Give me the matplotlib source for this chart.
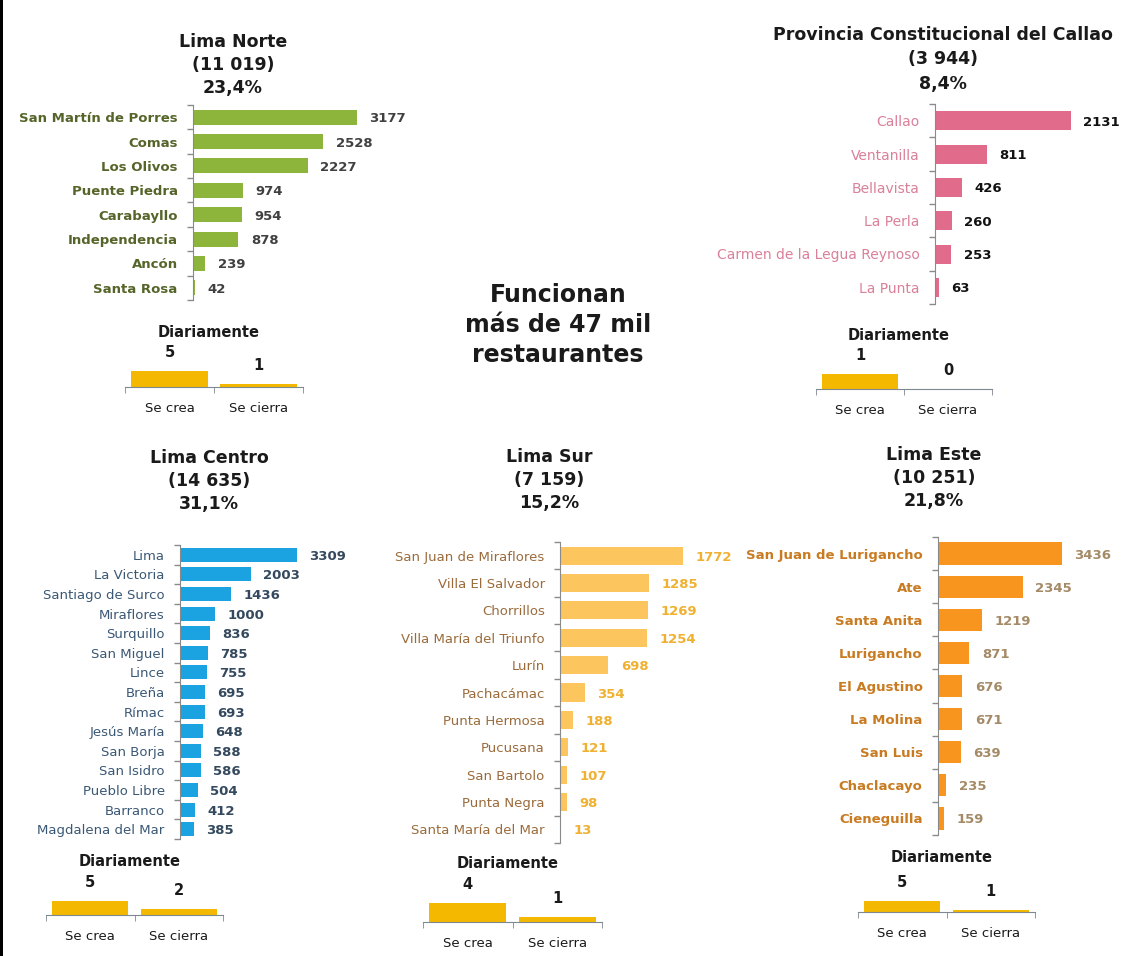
import numpy as np
import matplotlib
matplotlib.use('Agg')
import matplotlib.pyplot as plt
from matplotlib.patches import Rectangle

plt.rcParams['font.family'] = ['DejaVu Sans']

W, H = 1138, 956

# restaurantes por distrito
norte_names = ['San Martín de Porres', 'Comas', 'Los Olivos', 'Puente Piedra',
               'Carabayllo', 'Independencia', 'Ancón', 'Santa Rosa']
norte_vals = [3177, 2528, 2227, 974, 954, 878, 239, 42]

callao_names = ['Callao', 'Ventanilla', 'Bellavista', 'La Perla',
                'Carmen de la Legua Reynoso', 'La Punta']
callao_vals = [2131, 811, 426, 260, 253, 63]

centro_names = ['Lima', 'La Victoria', 'Santiago de Surco', 'Miraflores', 'Surquillo',
                'San Miguel', 'Lince', 'Breña', 'Rímac', 'Jesús María', 'San Borja',
                'San Isidro', 'Pueblo Libre', 'Barranco', 'Magdalena del Mar']
centro_vals = [3309, 2003, 1436, 1000, 836, 785, 755, 695, 693, 648, 588, 586, 504, 412, 385]

sur_names = ['San Juan de Miraflores', 'Villa El Salvador', 'Chorrillos',
             'Villa María del Triunfo', 'Lurín', 'Pachacámac', 'Punta Hermosa',
             'Pucusana', 'San Bartolo', 'Punta Negra', 'Santa María del Mar']
sur_vals = [1772, 1285, 1269, 1254, 698, 354, 188, 121, 107, 98, 13]

este_names = ['San Juan de Lurigancho', 'Ate', 'Santa Anita', 'Lurigancho', 'El Agustino',
              'La Molina', 'San Luis', 'Chaclacayo', 'Cieneguilla']
este_vals = [3436, 2345, 1219, 871, 676, 671, 639, 235, 159]

# aperturas y cierres diarios
daily_labels = ['Se crea', 'Se cierra']
norte_daily = [5, 1]
callao_daily = [1, 0]
centro_daily = [5, 2]
sur_daily = [4, 1]
este_daily = [5, 1]

fig = plt.figure(figsize=(W / 100, H / 100), dpi=100)
fig.patch.set_facecolor('white')


def box(x0, y0, x1, y1):
    return [x0 / W, 1 - y1 / H, (x1 - x0) / W, (y1 - y0) / H]


def ftext(x, y, s, **kw):
    fig.text(x / W, 1 - y / H, s, ha='center', va='center', **kw)


def header(x, y, lines, size=12.5, step=23):
    for i, s in enumerate(lines):
        ftext(x, y + i * step, s, fontsize=size, fontweight='bold', color='#1a1a1a')


def district_panel(names, vals, x_axis, y_top, y_bot, bar_px, bar_h, bar_c,
                   name_c, val_c, name_w='bold', val_w='bold', size=9.5):
    width = 190
    ax = fig.add_axes(box(x_axis, y_top, x_axis + width, y_bot))
    ax.patch.set_alpha(0)
    n = len(vals)
    ax.barh(range(n), vals, height=bar_h, color=bar_c)
    ax.set_ylim(n - 0.5, -0.5)
    ax.set_xlim(0, width * vals[0] / bar_px)
    ax.set_yticks(range(n))
    ax.set_yticklabels(names, color=name_c, fontweight=name_w, fontsize=size)
    ax.set_yticks(np.arange(-0.5, n, 1), minor=True)
    ax.tick_params(axis='y', which='major', length=0, pad=11)
    ax.tick_params(axis='y', which='minor', length=4, color='#8a8a8a', width=1)
    ax.set_xticks([])
    for s in ['top', 'right', 'bottom']:
        ax.spines[s].set_visible(False)
    ax.spines['left'].set_color('#8a8a8a')
    for i, v in enumerate(vals):
        ax.annotate(str(v), (v, i), xytext=(9, 0), textcoords='offset points',
                    va='center_baseline', ha='left', fontsize=9.5,
                    fontweight=val_w, color=val_c)
    return ax


def daily_panel(vals, x0, x1, y_axis, bar_px, label_y, bar_c='#f4b800'):
    hgt = 40
    ax = fig.add_axes(box(x0, y_axis - hgt, x1, y_axis))
    ax.patch.set_alpha(0)
    ax.bar([0, 1], vals, width=0.86, color=bar_c)
    ax.set_xlim(-0.5, 1.5)
    ax.set_ylim(0, max(vals) * hgt / bar_px)
    ax.set_yticks([])
    ax.set_xticks([0, 1])
    ax.set_xticklabels(daily_labels, fontsize=9.5, color='#1a1a1a')
    ax.set_xticks([-0.5, 0.5, 1.5], minor=True)
    ax.tick_params(axis='x', which='major', length=0, pad=11)
    ax.tick_params(axis='x', which='minor', length=4, color='#7f8790')
    for s in ['top', 'right', 'left']:
        ax.spines[s].set_visible(False)
    ax.spines['bottom'].set_color('#7f8790')
    for i, v in enumerate(vals):
        ax.annotate(str(v), (i, v), xytext=(0, 14.5), textcoords='offset points',
                    ha='center', va='center_baseline', fontsize=10.5,
                    fontweight='bold', color='#1a1a1a')
    ftext((x0 + x1) / 2 - 5, label_y, 'Diariamente', fontsize=10.5,
          fontweight='bold', color='#1a1a1a')
    return ax


# Lima Norte
header(233, 42, ['Lima Norte', '(11 019)', '23,4%'])
district_panel(norte_names, norte_vals, 193, 105, 300, 164, 0.62,
               '#8db53c', '#55652a', '#404040')
daily_panel(norte_daily, 125, 303, 387, 16, 332)

# Callao
header(943, 35, ['Provincia Constitucional del Callao', '(3 944)', '8,4%'], step=24.5)
district_panel(callao_names, callao_vals, 935, 104, 304, 136, 0.57,
               '#e06b8b', '#d9809a', '#111111', name_w='normal', size=10)
daily_panel(callao_daily, 816, 992, 389, 15, 335)

# texto central
for i, s in enumerate(['Funcionan', 'más de 47 mil', 'restaurantes']):
    ftext(558, 295 + i * 30, s, fontsize=17, fontweight='bold', color='#1a1a1a')

# Lima Centro
header(209, 458, ['Lima Centro', '(14 635)', '31,1%'])
district_panel(centro_names, centro_vals, 180, 545, 839, 117, 0.72,
               '#1aa3e0', '#3b5875', '#34495e', name_w='normal')
daily_panel(centro_daily, 46, 223, 915, 14, 862)

# Lima Sur
header(549, 457, ['Lima Sur', '(7 159)', '15,2%'])
district_panel(sur_names, sur_vals, 560, 542, 843, 123, 0.66,
               '#fcc55d', '#9b6b3b', '#f0b030', name_w='normal')
daily_panel(sur_daily, 423, 602, 922, 19, 863)

# Lima Este
header(934, 455, ['Lima Este', '(10 251)', '21,8%'])
district_panel(este_names, este_vals, 938, 537, 835, 124, 0.67,
               '#f7951e', '#c97b22', '#a48a66')
daily_panel(este_daily, 858, 1035, 912, 11, 858)

# borde izquierdo
fig.add_artist(Rectangle((0, 0), 3 / W, 1, transform=fig.transFigure,
                         facecolor='black', edgecolor='none'))

fig.savefig('out.png', dpi=100, facecolor='white')
